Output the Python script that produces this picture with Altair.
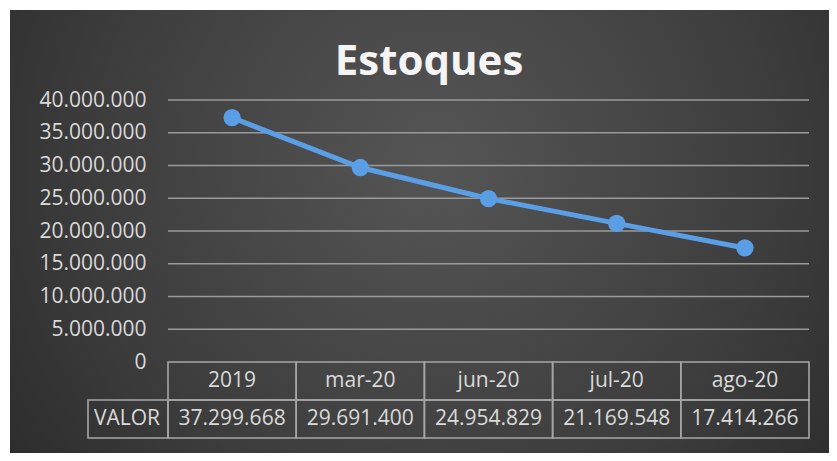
import altair as alt
import pandas as pd

# ---- data ----
categories = ["2019", "mar-20", "jun-20", "jul-20", "ago-20"]
values = [37299668, 29691400, 24954829, 21169548, 17414266]
row_label = "VALOR"
chart_title = "Estoques"
y_ticks = [0, 5000000, 10000000, 15000000, 20000000, 25000000, 30000000, 35000000, 40000000]

df = pd.DataFrame({
    "cat": categories,
    "val": values,
    "label": [f"{v:,}".replace(",", ".") for v in values],
})
ticks_df = pd.DataFrame({"val": y_ticks[1:]})
one = pd.DataFrame({"k": [0]})

W, H = 641, 262
FONT = "Open Sans"
TXT = "#D9D9D9"
GRID = "#9A9A9A"
LINE = "#5A9EE6"
FS = 21

xenc = alt.X("cat:N", sort=categories, axis=None,
             scale=alt.Scale(paddingInner=0, paddingOuter=0))
yscale = alt.Scale(domain=[0, 40000000], nice=False, zero=True)
yaxis = alt.Axis(values=y_ticks, title=None, domain=False, ticks=False,
                 grid=False, zindex=1, labelOverlap=False,
                 labelColor=TXT, labelFont=FONT, labelFontSize=FS,
                 labelPadding=22,
                 labelExpr="replace(format(datum.value, ','), regexp(',', 'g'), '.')")
yenc = alt.Y("val:Q", scale=yscale, axis=yaxis, title=None)

bg = alt.Chart(one).mark_rect(
    fill=alt.Gradient(
        gradient="radial",
        stops=[alt.GradientStop(color="#555555", offset=0),
               alt.GradientStop(color="#3d3d3d", offset=0.55),
               alt.GradientStop(color="#242424", offset=1)],
        x1=0.52, y1=0.42, x2=0.52, y2=0.42, r1=0, r2=0.75,
    )
).encode(x=alt.value(-158), x2=alt.value(661), y=alt.value(-90), y2=alt.value(353))

grid = alt.Chart(ticks_df).mark_rule(color=GRID, strokeWidth=1.6).encode(
    y=yenc, x=alt.value(0), x2=alt.value(W))

line = alt.Chart(df).mark_line(color=LINE, strokeWidth=5).encode(x=xenc, y=yenc)
pts = alt.Chart(df).mark_point(filled=True, color=LINE, size=300, opacity=1).encode(x=xenc, y=yenc)

cell_style = dict(fill=None, stroke="#A6A6A6", strokeWidth=1.6)
head_cells = alt.Chart(df).mark_rect(**cell_style).encode(
    x=xenc, y=alt.value(262), y2=alt.value(300))
val_cells = alt.Chart(df).mark_rect(**cell_style).encode(
    x=xenc, y=alt.value(300), y2=alt.value(338))
row_cell = alt.Chart(one).mark_rect(**cell_style).encode(
    x=alt.value(-80), x2=alt.value(0), y=alt.value(300), y2=alt.value(338))

head_txt = alt.Chart(df).mark_text(font=FONT, fontSize=FS, color=TXT, baseline="middle").encode(
    x=xenc, y=alt.value(281), text="cat:N")
val_txt = alt.Chart(df).mark_text(font=FONT, fontSize=FS, color=TXT, baseline="middle").encode(
    x=xenc, y=alt.value(319), text="label:N")
row_txt = alt.Chart(pd.DataFrame({"t": [row_label]})).mark_text(
    font=FONT, fontSize=FS, color=TXT, baseline="middle").encode(
    x=alt.value(-41), y=alt.value(319), text="t:N")

title_txt = alt.Chart(pd.DataFrame({"t": [chart_title]})).mark_text(
    font=FONT, fontSize=42, fontWeight="bold", color="#F4F4F4", baseline="alphabetic", align="center").encode(
    x=alt.value(261), y=alt.value(-25), text="t:N")

chart = alt.layer(bg, grid, head_cells, val_cells, row_cell,
                  head_txt, val_txt, row_txt, title_txt, line, pts).properties(
    width=W, height=H,
    autosize=alt.AutoSizeParams(type="none"),
    padding={"left": 160, "top": 92, "right": 20, "bottom": 91},
).configure(background="#ffffff").configure_view(stroke=None)

chart.save("out.html", embed_options={"renderer": "svg", "actions": False})
